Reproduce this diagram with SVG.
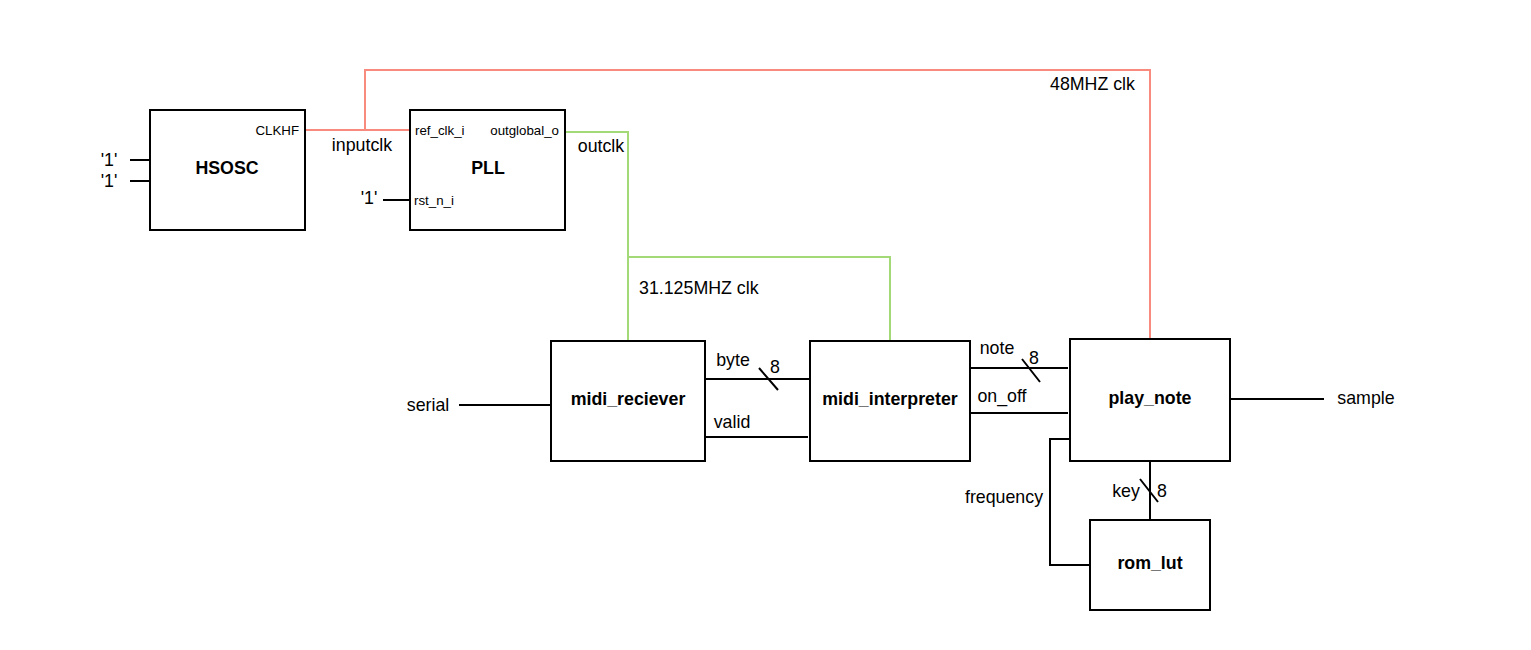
<svg xmlns="http://www.w3.org/2000/svg" width="1531" height="650" viewBox="0 0 1531 650">
<style>
.box{fill:#fff;stroke:#000;stroke-width:2}
.w{fill:none;stroke:#000;stroke-width:2}
.red{fill:none;stroke:#F88A7E;stroke-width:2}
.grn{fill:none;stroke:#A3D977;stroke-width:2}
text{font-family:"Liberation Sans",Arial,sans-serif;fill:#000}
.t{font-size:17.8px}
.b{font-size:17.8px;font-weight:bold;text-anchor:middle}
.s{font-size:13.3px}
.m{text-anchor:middle}
</style>
<rect width="1531" height="650" fill="#fff"/>
<g id="connectors">
<path class="red" d="M305,130 H410 M365,130 V70 H1150 V339"/>
<path class="grn" d="M565,132 H628 V341 M628,257 H890 V341"/>
<path class="w" d="M130,160 H150 M130,181 H150 M383,200 H410"/>
<path class="w" d="M459,405 H551"/>
<path class="w" d="M705,379 H810 M759,368 L778,390 M705,437 H808"/>
<path class="w" d="M970,368 H1068 M1022,359 L1040,382 M970,413 H1068"/>
<path class="w" d="M1070,439 H1050 V565 H1090"/>
<path class="w" d="M1150,461 V520 M1140,479 L1158,502"/>
<path class="w" d="M1230,399 H1324"/>
<text class="t m" x="109" y="166">'1'</text>
<text class="t m" x="109" y="187">'1'</text>
<text class="t m" x="369" y="204">'1'</text>
<text class="t m" x="362" y="151">inputclk</text>
<text class="t m" x="601" y="152">outclk</text>
<text class="t" x="639" y="294">31.125MHZ clk</text>
<text class="t" x="1050" y="90">48MHZ clk</text>
<text class="t m" x="428" y="411">serial</text>
<text class="t m" x="733" y="366">byte</text>
<text class="t m" x="775" y="373">8</text>
<text class="t m" x="732" y="428">valid</text>
<text class="t m" x="997" y="354">note</text>
<text class="t m" x="1034" y="364">8</text>
<text class="t m" x="1002" y="402">on_off</text>
<text class="t m" x="1004" y="503">frequency</text>
<text class="t m" x="1126" y="497">key</text>
<text class="t m" x="1162" y="497">8</text>
<text class="t m" x="1366" y="404">sample</text>
</g>
<g id="hsosc">
<rect class="box" x="150" y="110" width="155" height="120"/>
<text class="b" x="227" y="174">HSOSC</text>
<text class="s" x="299" y="135" text-anchor="end">CLKHF</text>
</g>
<g id="pll">
<rect class="box" x="410" y="110" width="155" height="120"/>
<text class="b" x="488" y="174">PLL</text>
<text class="s" x="415" y="135">ref_clk_i</text>
<text class="s" x="559" y="135" text-anchor="end">outglobal_o</text>
<text class="s" x="414" y="205">rst_n_i</text>
</g>
<g id="midi_reciever">
<rect class="box" x="551" y="341" width="154" height="120"/>
<text class="b" x="628" y="405">midi_reciever</text>
</g>
<g id="midi_interpreter">
<rect class="box" x="810" y="341" width="160" height="120"/>
<text class="b" x="890" y="405">midi_interpreter</text>
</g>
<g id="play_note">
<rect class="box" x="1070" y="339" width="160" height="122"/>
<text class="b" x="1150" y="404">play_note</text>
</g>
<g id="rom_lut">
<rect class="box" x="1090" y="520" width="120" height="90"/>
<text class="b" x="1150" y="569">rom_lut</text>
</g>
</svg>
